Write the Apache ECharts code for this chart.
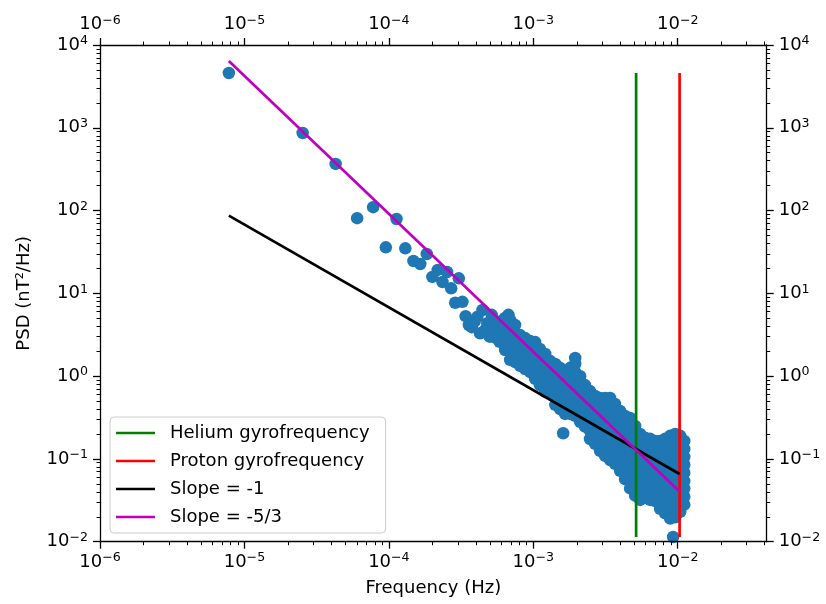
<!DOCTYPE html>
<html>
<head>
<meta charset="utf-8">
<script src="https://cdn.jsdelivr.net/npm/echarts@6/dist/echarts.min.js"></script>
<style>
  html, body { margin: 0; padding: 0; background: #ffffff; }
  #chart { width: 826px; height: 604px; }
</style>
</head>
<body>
<div id="chart"></div>
<script>
// Low-frequency estimates, well separated from each other: frequency (Hz) and PSD (nT^2/Hz)
const sparseFreq = [
  7.8e-6, 2.53e-5, 4.28e-5, 6.03e-5, 7.78e-5, 9.53e-5, 1.13e-4, 1.30e-4,
  1.48e-4, 1.65e-4, 1.83e-4, 2.00e-4, 2.18e-4, 2.35e-4, 2.53e-4, 2.70e-4,
  2.88e-4, 3.05e-4, 3.23e-4, 3.40e-4, 3.58e-4, 3.75e-4, 3.93e-4, 4.10e-4,
  4.28e-4, 4.45e-4, 4.63e-4, 4.80e-4, 4.98e-4, 5.15e-4, 5.33e-4, 5.50e-4,
  5.68e-4, 5.85e-4, 6.03e-4, 6.20e-4, 6.38e-4, 6.55e-4, 6.73e-4
];
const sparsePsd = [
  4590, 865, 366, 81, 110, 36, 79, 35,
  24.6, 22.6, 29.9, 15.8, 19.2, 13.7, 18.1, 11.5,
  7.7, 15.2, 7.9, 5.3, 4.15, 3.9, 4.6, 5.2,
  3.3, 6.3, 3.6, 4.35, 3.0, 5.5, 3.9, 2.9,
  4.4, 2.6, 3.5, 4.8, 2.3, 3.4, 5.5
];

// Dense part of the spectrum: frequency columns and the PSD values spread across each
const bandFreq = [
  6.38e-4, 6.91e-4, 7.48e-4, 8.10e-4, 8.77e-4, 9.51e-4, 1.03e-3, 1.11e-3,
  1.21e-3, 1.31e-3, 1.42e-3, 1.53e-3, 1.66e-3, 1.80e-3, 1.95e-3, 2.11e-3,
  2.28e-3, 2.47e-3, 2.68e-3, 2.90e-3, 3.14e-3, 3.40e-3, 3.68e-3, 3.99e-3,
  4.32e-3, 4.68e-3, 5.07e-3, 5.49e-3, 5.94e-3, 6.44e-3, 6.98e-3, 7.55e-3,
  8.18e-3, 8.86e-3, 9.60e-3, 1.04e-2, 1.11e-2
];
const bandPsd = [
  [5.04, 4.04, 3.23, 2.59, 2.07],
  [4.77, 3.82, 3.06, 2.45, 1.96, 1.57],
  [4.15, 3.32, 2.66, 2.13, 1.70, 1.48],
  [3.13, 2.51, 2.01, 1.61, 1.33],
  [2.88, 2.31, 1.85, 1.48, 1.22],
  [2.66, 2.13, 1.70, 1.37, 1.12],
  [2.58, 2.06, 1.64, 1.31, 1.03, 0.93],
  [2.13, 1.70, 1.37, 1.09, 0.875, 0.78],
  [1.85, 1.48, 1.19, 0.95, 0.78, 0.644],
  [1.52, 1.22, 0.975, 0.78, 0.62],
  [1.40, 1.12, 0.90, 0.72, 0.577, 0.45],
  [1.26, 1.00, 0.805, 0.644, 0.516, 0.40],
  [1.15, 0.925, 0.74, 0.59, 0.475, 0.35],
  [1.26, 1.00, 0.805, 0.644, 0.516, 0.413, 0.35],
  [1.66, 1.40, 1.12, 0.90, 0.72, 0.577, 0.462, 0.37, 0.331],
  [1.00, 0.805, 0.644, 0.516, 0.413, 0.331, 0.28],
  [0.78, 0.61, 0.49, 0.39, 0.31, 0.245],
  [0.66, 0.53, 0.42, 0.34, 0.27, 0.217, 0.174],
  [0.577, 0.462, 0.370, 0.296, 0.237, 0.190, 0.152],
  [0.546, 0.44, 0.35, 0.28, 0.224, 0.18, 0.144, 0.125],
  [0.546, 0.44, 0.35, 0.28, 0.224, 0.18, 0.144, 0.109],
  [0.546, 0.44, 0.35, 0.28, 0.224, 0.18, 0.144, 0.115, 0.097],
  [0.462, 0.37, 0.296, 0.237, 0.19, 0.152, 0.122, 0.097, 0.087],
  [0.38, 0.30, 0.243, 0.195, 0.156, 0.125, 0.10, 0.08, 0.072],
  [0.331, 0.265, 0.212, 0.170, 0.136, 0.109, 0.087, 0.070, 0.057],
  [0.313, 0.25, 0.20, 0.161, 0.129, 0.103, 0.083, 0.066, 0.053, 0.044],
  [0.25, 0.20, 0.161, 0.129, 0.103, 0.083, 0.066, 0.053, 0.042, 0.036],
  [0.20, 0.161, 0.129, 0.103, 0.083, 0.066, 0.053, 0.042, 0.035, 0.032],
  [0.18, 0.144, 0.115, 0.092, 0.074, 0.059, 0.047, 0.038, 0.034],
  [0.175, 0.14, 0.112, 0.09, 0.072, 0.057, 0.046, 0.037, 0.032],
  [0.165, 0.132, 0.106, 0.085, 0.068, 0.054, 0.044, 0.035, 0.031],
  [0.165, 0.132, 0.106, 0.085, 0.068, 0.054, 0.044, 0.035, 0.028, 0.025],
  [0.175, 0.14, 0.112, 0.09, 0.072, 0.057, 0.046, 0.037, 0.03, 0.024, 0.022],
  [0.19, 0.152, 0.122, 0.097, 0.078, 0.062, 0.05, 0.040, 0.032, 0.0256, 0.0205, 0.019],
  [0.20, 0.161, 0.129, 0.103, 0.083, 0.066, 0.053, 0.042, 0.034, 0.027, 0.0215, 0.0197],
  [0.19, 0.152, 0.122, 0.097, 0.078, 0.062, 0.05, 0.04, 0.032, 0.0256, 0.0229],
  [0.165, 0.132, 0.106, 0.085, 0.068, 0.054, 0.044, 0.035, 0.028]
];

// Isolated estimates below the main band
const outlierFreq = [1.61e-3, 9.29e-3];
const outlierPsd = [0.204, 0.0114];

// Reference power laws over the spectrum's frequency range
const fitFreq = [7.8e-6, 1.03e-2];
const slopeOnePsd = [87, 0.0657];
const slopeFiveThirdsPsd = [6400, 0.0403];

// Gyrofrequencies (Hz) and the PSD span their markers cover
const heliumGyro = 5.15e-3;
const protonGyro = 1.03e-2;
const gyroSpan = [0.0114, 4590];

// Axis ranges and decade ticks
const xRange = [1e-6, 0.0413];
const yRange = [1e-2, 1e4];
const xDecades = [1e-6, 1e-5, 1e-4, 1e-3, 1e-2];
const yDecades = [1e-2, 1e-1, 1, 1e1, 1e2, 1e3, 1e4];

// ---------------------------------------------------------------
const FONT = 'DejaVu Sans';

function minorTicks(decades, range) {
  const out = [];
  decades.forEach(function (d) {
    for (let k = 2; k <= 9; k++) {
      const v = k * d;
      if (v > range[0] && v < range[1]) out.push(v);
    }
  });
  return out;
}

function powLabel(v) {
  const e = Math.round(Math.log10(v));
  return '{b|10}{s|' + (e < 0 ? '\u2212' + (-e) : String(e)) + '}';
}

const labelRich = {
  b: { fontFamily: FONT, fontSize: 18, color: '#000000' },
  s: { fontFamily: FONT, fontSize: 12.6, color: '#000000', padding: [0, 0, 8, 0] }
};

function majorAxis(pos, range, decades, margin) {
  return {
    type: 'log', logBase: 10, position: pos, min: range[0], max: range[1],
    splitLine: { show: false },
    axisLine: { show: true, onZero: false, lineStyle: { color: '#000000', width: 1.3 } },
    axisTick: { show: true, inside: false, length: 7, customValues: decades,
                lineStyle: { color: '#000000', width: 1.3 } },
    axisLabel: { show: true, margin: margin, customValues: decades,
                 formatter: powLabel, rich: labelRich },
    z: 5
  };
}

function minorAxis(pos, range, decades) {
  return {
    type: 'log', logBase: 10, position: pos, min: range[0], max: range[1],
    splitLine: { show: false },
    axisLine: { show: false, onZero: false },
    axisTick: { show: true, inside: false, length: 3.5, customValues: minorTicks(decades, range),
                lineStyle: { color: '#000000', width: 1 } },
    axisLabel: { show: false },
    z: 5
  };
}

const scatterData = [];
sparseFreq.forEach(function (f, i) { scatterData.push([f, sparsePsd[i]]); });
bandFreq.forEach(function (f, i) {
  bandPsd[i].forEach(function (p) { scatterData.push([f, p]); });
});
outlierFreq.forEach(function (f, i) { scatterData.push([f, outlierPsd[i]]); });

const xBottom = majorAxis('bottom', xRange, xDecades, 10);
xBottom.name = 'Frequency (Hz)';
xBottom.nameLocation = 'middle';
xBottom.nameGap = 38;
xBottom.nameTextStyle = { fontFamily: FONT, fontSize: 18, color: '#000000' };

const yLeft = majorAxis('left', yRange, yDecades, 12);
yLeft.name = 'PSD (nT\u00B2/Hz)';
yLeft.nameLocation = 'middle';
yLeft.nameGap = 67;
yLeft.nameRotate = 90;
yLeft.nameTextStyle = { fontFamily: FONT, fontSize: 18, color: '#000000' };

function lineSeries(name, color, xs, ys) {
  return {
    name: name, type: 'line', xAxisIndex: 0, yAxisIndex: 0,
    data: xs.map(function (x, i) { return [x, ys[i]]; }),
    symbol: 'none', showSymbol: false, silent: true, clip: true,
    lineStyle: { color: color, width: 2.7 },
    itemStyle: { color: color },
    z: 3
  };
}

const chart = echarts.init(document.getElementById('chart'), null, { renderer: 'canvas' });
chart.setOption({
  animation: false,
  backgroundColor: '#ffffff',
  grid: { left: 100, right: 59.3, top: 45, bottom: 62.3, containLabel: false },
  xAxis: [
    xBottom,
    majorAxis('top', xRange, xDecades, 10),
    minorAxis('bottom', xRange, xDecades),
    minorAxis('top', xRange, xDecades)
  ],
  yAxis: [
    yLeft,
    majorAxis('right', yRange, yDecades, 12),
    minorAxis('left', yRange, yDecades),
    minorAxis('right', yRange, yDecades)
  ],
  legend: {
    left: 110, top: 417, orient: 'vertical',
    data: [
      { name: 'Helium gyrofrequency', icon: 'rect' },
      { name: 'Proton gyrofrequency', icon: 'rect' },
      { name: 'Slope = -1', icon: 'rect' },
      { name: 'Slope = -5/3', icon: 'rect' }
    ],
    itemWidth: 39, itemHeight: 2.7, itemGap: 10,
    padding: [7, 16, 7, 6],
    backgroundColor: 'rgba(255,255,255,0.8)',
    borderColor: '#cccccc', borderWidth: 1, borderRadius: 4,
    selectedMode: false,
    textStyle: { fontFamily: FONT, fontSize: 18, color: '#000000', lineHeight: 18, padding: [0, 0, 0, 10] }
  },
  series: [
    {
      name: 'PSD', type: 'scatter', xAxisIndex: 0, yAxisIndex: 0,
      data: scatterData, symbol: 'circle', symbolSize: 12.5, silent: true,
      itemStyle: { color: '#1f77b4', opacity: 1 },
      z: 2
    },
    lineSeries('Helium gyrofrequency', '#008000', [heliumGyro, heliumGyro], gyroSpan),
    lineSeries('Proton gyrofrequency', '#ff0000', [protonGyro, protonGyro], gyroSpan),
    lineSeries('Slope = -1', '#000000', fitFreq, slopeOnePsd),
    lineSeries('Slope = -5/3', '#bf00bf', fitFreq, slopeFiveThirdsPsd)
  ]
});
</script>
</body>
</html>
